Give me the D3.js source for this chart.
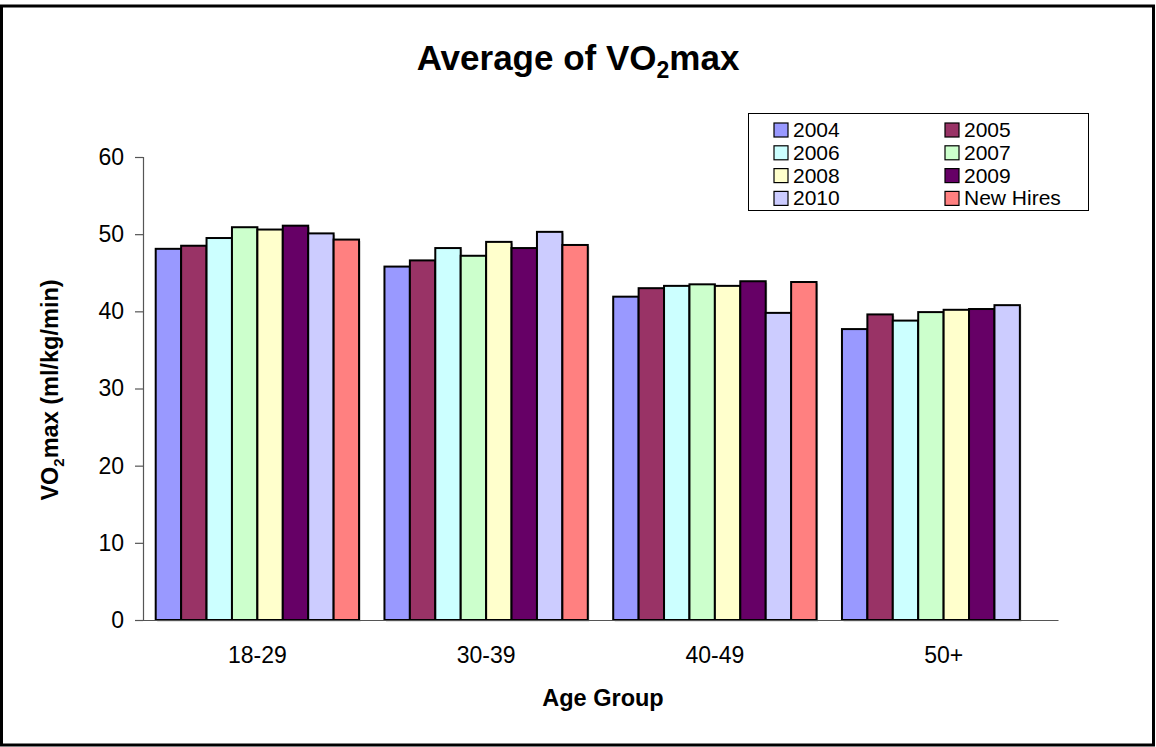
<!DOCTYPE html>
<html><head><meta charset="utf-8">
<script src="https://cdn.jsdelivr.net/npm/d3@7"></script>
<style>body{margin:0;background:#fff}svg{display:block;font-family:"Liberation Sans",Arial,sans-serif}</style>
</head><body><svg id="c" width="1156" height="747"></svg>
<script>
const categories = ["18-29", "30-39", "40-49", "50+"];
const seriesNames = ["2004", "2005", "2006", "2007", "2008", "2009", "2010", "New Hires"];
const seriesColors = ["#9999FF", "#993366", "#CCFFFF", "#CCFFCC", "#FFFFCC", "#660066", "#CCCCFF", "#FF8080"];
const v2004 = [48.1, 45.8, 41.9, 37.7];
const v2005 = [48.5, 46.6, 43.0, 39.6];
const v2006 = [49.5, 48.2, 43.3, 38.8];
const v2007 = [50.9, 47.2, 43.5, 39.9];
const v2008 = [50.6, 49.0, 43.3, 40.2];
const v2009 = [51.1, 48.2, 43.9, 40.3];
const v2010 = [50.1, 50.3, 39.8, 40.8];
const vNewHires = [49.3, 48.6, 43.8, null];
const yTicks = [0, 10, 20, 30, 40, 50, 60];

const seriesValues = [v2004, v2005, v2006, v2007, v2008, v2009, v2010, vNewHires];
const svg = d3.select("#c");
const L = 143, R = 1058, T = 157, B = 620;
const FF = "Liberation Sans, Arial, sans-serif";

svg.append("rect").attr("x", 1.5).attr("y", 6).attr("width", 1152).attr("height", 739)
  .attr("fill", "#fff").attr("stroke", "#000").attr("stroke-width", 3);

const x0 = d3.scaleBand().domain(categories).range([L, R]).paddingInner(0).paddingOuter(0);
const x1 = d3.scaleBand().domain(seriesNames).range([x0.bandwidth() / 18, x0.bandwidth() * 17 / 18]).padding(0);
const y = d3.scaleLinear().domain([0, 60]).range([B, T]);

// bars
const g = svg.append("g");
categories.forEach((cat, ci) => {
  seriesNames.forEach((s, si) => {
    const v = seriesValues[si][ci];
    if (v == null) return;
    const bx = x0(cat) + x1(s), bw = x1.bandwidth();
    g.append("rect").attr("x", bx + 1.5).attr("y", y(v) + 1.5).attr("width", bw).attr("height", B - y(v))
      .attr("fill", "#999").attr("opacity", 0.6);
    g.append("rect").attr("x", bx).attr("y", y(v)).attr("width", bw).attr("height", B - y(v))
      .attr("fill", seriesColors[si]).attr("stroke", "#000").attr("stroke-width", 2);
  });
});

// axes
const yAxis = d3.axisLeft(y).tickValues(yTicks).tickSize(8).tickPadding(11);
const ya = svg.append("g").attr("transform", `translate(${L},0)`).call(yAxis);
ya.select(".domain").attr("stroke", "#555").attr("stroke-width", 1.2);
ya.selectAll(".tick line").attr("stroke", "#555").attr("stroke-width", 1.2);
ya.selectAll(".tick text").attr("font-size", 23).attr("fill", "#000").attr("font-family", FF);

const xAxis = d3.axisBottom(x0).tickSize(0).tickPadding(27);
const xa = svg.append("g").attr("transform", `translate(0,${B})`).call(xAxis);
xa.select(".domain").attr("stroke", "#555").attr("stroke-width", 1.2);
xa.selectAll(".tick text").attr("font-size", 23).attr("fill", "#000").attr("font-family", FF);

// title
const title = svg.append("text").attr("x", 578).attr("y", 70).attr("text-anchor", "middle")
  .attr("font-size", 35).attr("font-weight", "bold");
title.append("tspan").text("Average of VO");
title.append("tspan").attr("font-size", 23).attr("dy", 8).text("2");
title.append("tspan").attr("dy", -8).text("max");

// axis titles
svg.append("text").attr("x", 603).attr("y", 706).attr("text-anchor", "middle")
  .attr("font-size", 23.5).attr("font-weight", "bold").text("Age Group");
const yt = svg.append("text").attr("transform", "translate(58,390) rotate(-90)").attr("text-anchor", "middle")
  .attr("font-size", 23.5).attr("font-weight", "bold");
yt.append("tspan").text("VO");
yt.append("tspan").attr("font-size", 15).attr("dy", 6).text("2");
yt.append("tspan").attr("dy", -6).text("max (ml/kg/min)");

// legend
svg.append("rect").attr("x", 748.5).attr("y", 113.5).attr("width", 340).attr("height", 97)
  .attr("fill", "#fff").attr("stroke", "#000").attr("stroke-width", 1);
seriesNames.forEach((s, i) => {
  const col = i % 2, row = Math.floor(i / 2);
  const sx = col === 0 ? 774 : 945;
  const cy = 130 + row * 22.8;
  svg.append("rect").attr("x", sx).attr("y", cy - 7).attr("width", 14).attr("height", 14)
    .attr("fill", seriesColors[i]).attr("stroke", "#000").attr("stroke-width", 1.2);
  svg.append("text").attr("x", sx + 19).attr("y", cy + 7).attr("font-size", 21).text(s);
});
</script></body></html>
